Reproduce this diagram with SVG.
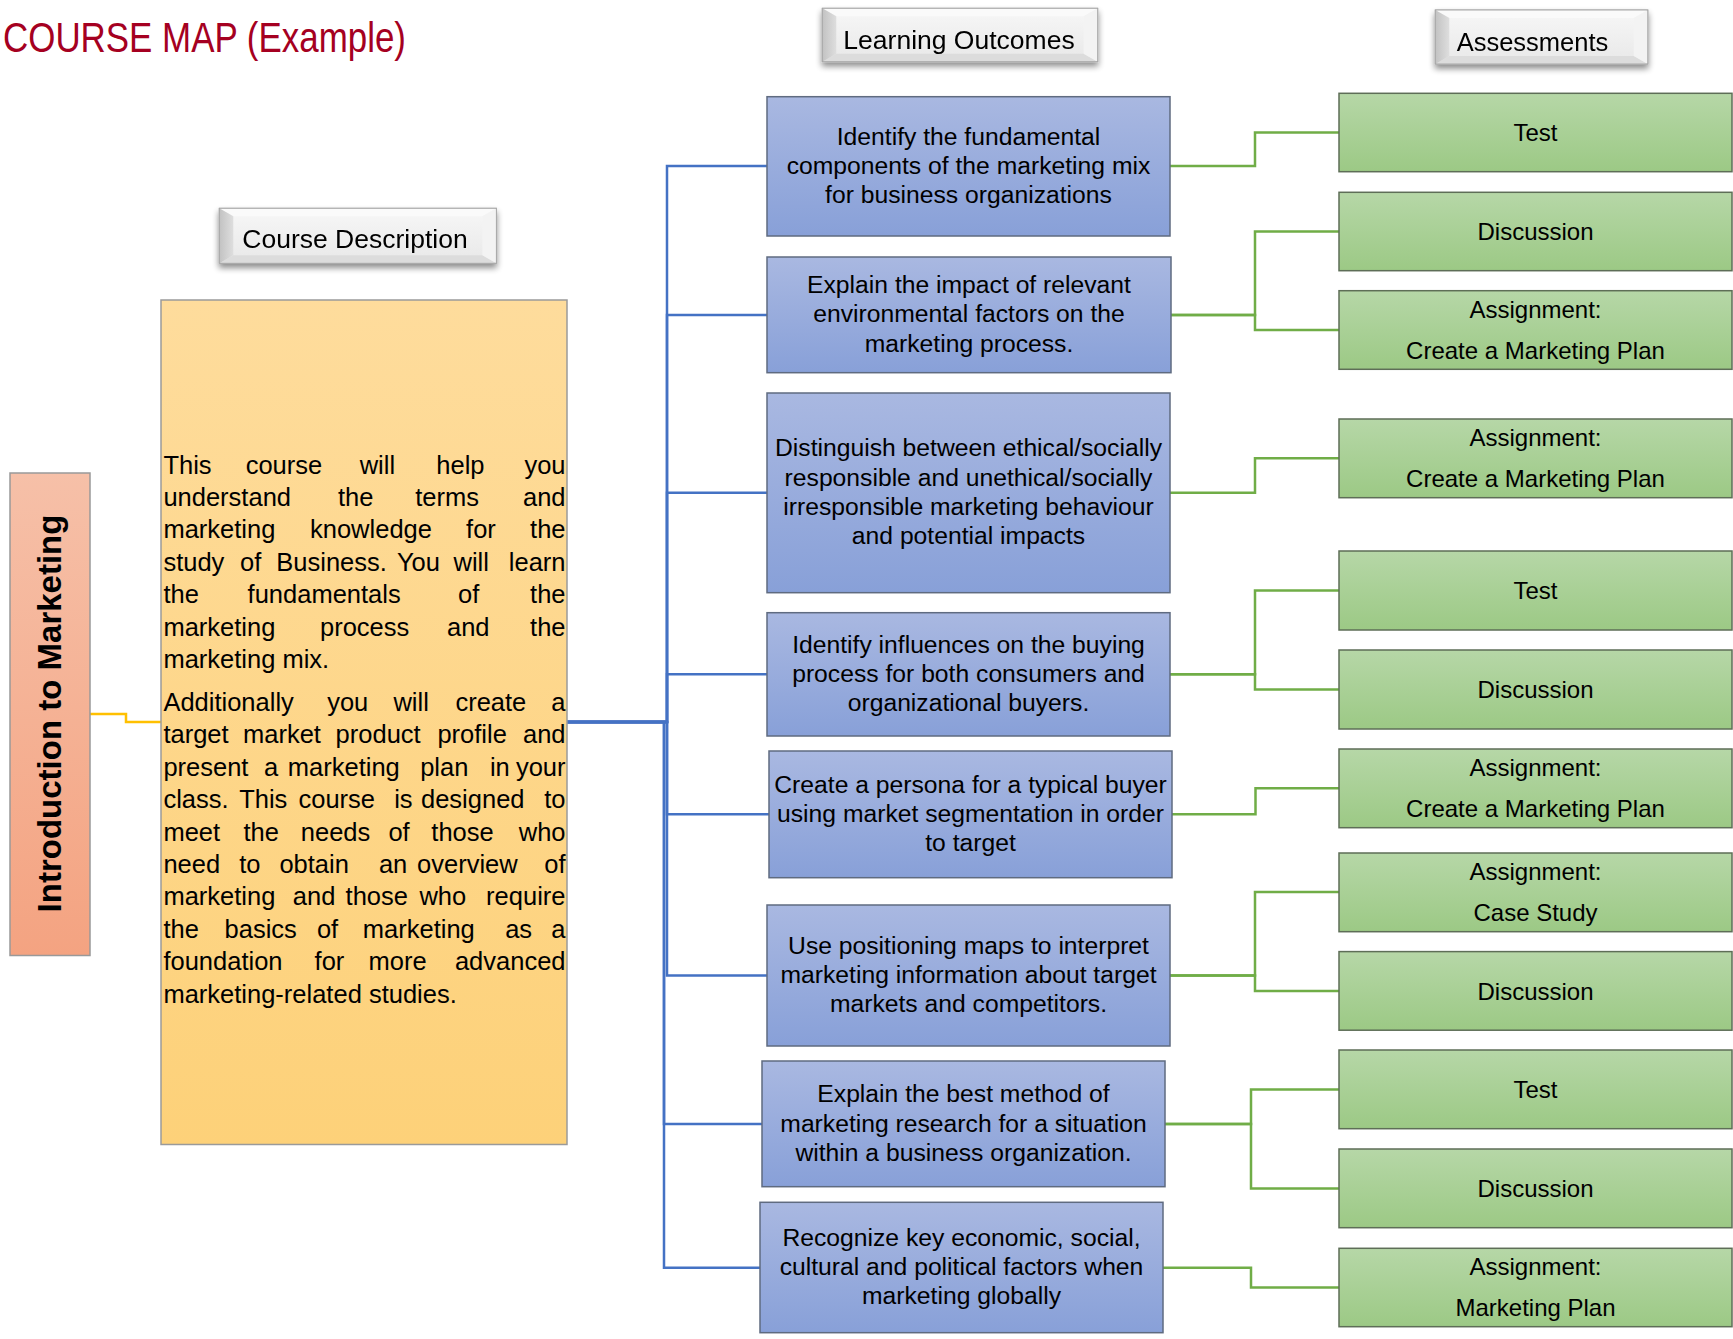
<svg xmlns="http://www.w3.org/2000/svg" width="1733" height="1339" viewBox="0 0 1733 1339">
<defs>
<linearGradient id="gLO" x1="0" y1="0" x2="0" y2="1"><stop offset="0" stop-color="#A9B8E1"/><stop offset="1" stop-color="#88A0D8"/></linearGradient>
<linearGradient id="gGr" x1="0" y1="0" x2="0" y2="1"><stop offset="0" stop-color="#B6D7A7"/><stop offset="1" stop-color="#9CC985"/></linearGradient>
<linearGradient id="gCo" x1="0" y1="0" x2="0" y2="1"><stop offset="0" stop-color="#FEDC9C"/><stop offset="1" stop-color="#FDD179"/></linearGradient>
<linearGradient id="gIn" x1="0" y1="0" x2="0" y2="1"><stop offset="0" stop-color="#F6C0A8"/><stop offset="1" stop-color="#F4A381"/></linearGradient>
<linearGradient id="gFace" x1="0" y1="0" x2="0" y2="1"><stop offset="0" stop-color="#F7F7F7"/><stop offset="1" stop-color="#E8E8E8"/></linearGradient>
<linearGradient id="gLeft" x1="0" y1="0" x2="1" y2="0"><stop offset="0" stop-color="#C2C2C2"/><stop offset="1" stop-color="#DEDEDE"/></linearGradient>
<filter id="sh" x="-10%" y="-20%" width="120%" height="160%">
<feGaussianBlur in="SourceAlpha" stdDeviation="3"/><feOffset dy="4"/>
<feComponentTransfer><feFuncA type="linear" slope="0.45"/></feComponentTransfer>
<feMerge><feMergeNode/><feMergeNode in="SourceGraphic"/></feMerge>
</filter>
</defs>
<style>
text{font-family:"Liberation Sans",Arial,sans-serif;fill:#000;}
.t{font-size:24px;}
.p{font-size:25.5px;}
.l{font-size:24.7px;}
.c{text-anchor:middle;}
.hd{font-size:26.5px;text-anchor:middle;}
.lo{fill:url(#gLO);stroke:#5F6B80;stroke-width:1.5;}
.gr{fill:url(#gGr);stroke:#5E6E57;stroke-width:1.5;}
.face{fill:url(#gFace);stroke:#A8A8A8;stroke-width:1;}
.bl{fill:url(#gLeft);}
.br{fill:#F3F3F3;}
.bb{fill:#DCDCDC;}
.bt{fill:#FAFAFA;}
.cb{fill:none;stroke:#4472C4;stroke-width:2.5;}
.cg{fill:none;stroke:#70AD47;stroke-width:2.5;}
.cy{fill:none;stroke:#FFC000;stroke-width:2.5;}
</style>

<g id="title">
<text x="3" y="51.7" font-size="42" style="fill:#A50021" textLength="403" lengthAdjust="spacingAndGlyphs">COURSE MAP (Example)</text>
</g>

<g id="connectors">
<path class="cy" d="M90,714 H126 V722 H161"/>
<path class="cb" d="M567,722 H667 V166 H767"/>
<path class="cb" d="M567,722 H667 V315 H767"/>
<path class="cb" d="M567,722 H667 V492.8 H767"/>
<path class="cb" d="M567,722 H667 V674.3 H767"/>
<path class="cb" d="M567,722 H667 V814.3 H769"/>
<path class="cb" d="M567,722 H667 V975.5 H767"/>
<path class="cb" d="M567,722 H664 V1124 H762"/>
<path class="cb" d="M567,722 H664 V1267.7 H760"/>
<path class="cg" d="M1170,166 H1255 V132.5 H1339"/>
<path class="cg" d="M1171,315 H1255 V231.5 H1339"/>
<path class="cg" d="M1171,315 H1255 V330 H1339"/>
<path class="cg" d="M1170,492.8 H1255 V458.3 H1339"/>
<path class="cg" d="M1170,674.3 H1255 V590.5 H1339"/>
<path class="cg" d="M1170,674.3 H1255 V689.5 H1339"/>
<path class="cg" d="M1172,814.3 H1255.5 V788.3 H1339"/>
<path class="cg" d="M1170,975.5 H1255 V892 H1339"/>
<path class="cg" d="M1170,975.5 H1255 V991 H1339"/>
<path class="cg" d="M1165,1124 H1251 V1089.4 H1339"/>
<path class="cg" d="M1165,1124 H1251 V1188.4 H1339"/>
<path class="cg" d="M1163,1267.7 H1251 V1287.5 H1339"/>
</g>

<g id="hdr-course-description" filter="url(#sh)">
<rect class="face" x="219.3" y="208.3" width="277.1" height="55"/>
<polygon class="bt" points="219.3,208.3 496.4,208.3 482.4,216.3 233.3,216.3"/>
<polygon class="bb" points="219.3,263.3 496.4,263.3 482.4,255.3 233.3,255.3"/>
<polygon class="bl" points="219.3,208.3 233.3,216.3 233.3,255.3 219.3,263.3"/>
<polygon class="br" points="496.4,208.3 482.4,216.3 482.4,255.3 496.4,263.3"/>
<rect x="219.3" y="208.3" width="277.1" height="55" fill="none" stroke="#A8A8A8"/>
<text class="hd" x="355" y="248.3">Course Description</text>
</g>

<g id="hdr-learning-outcomes" filter="url(#sh)">
<rect class="face" x="822.3" y="8.3" width="275.4" height="53.4"/>
<polygon class="bt" points="822.3,8.3 1097.7,8.3 1083.7,16.3 836.3,16.3"/>
<polygon class="bb" points="822.3,61.7 1097.7,61.7 1083.7,53.7 836.3,53.7"/>
<polygon class="bl" points="822.3,8.3 836.3,16.3 836.3,53.7 822.3,61.7"/>
<polygon class="br" points="1097.7,8.3 1083.7,16.3 1083.7,53.7 1097.7,61.7"/>
<rect x="822.3" y="8.3" width="275.4" height="53.4" fill="none" stroke="#A8A8A8"/>
<text class="hd" x="959" y="49.3">Learning Outcomes</text>
</g>

<g id="hdr-assessments" filter="url(#sh)">
<rect class="face" x="1435.3" y="10" width="212.5" height="54"/>
<polygon class="bt" points="1435.3,10 1647.8,10 1633.8,18 1449.3,18"/>
<polygon class="bb" points="1435.3,64 1647.8,64 1633.8,56 1449.3,56"/>
<polygon class="bl" points="1435.3,10 1449.3,18 1449.3,56 1435.3,64"/>
<polygon class="br" points="1647.8,10 1633.8,18 1633.8,56 1647.8,64"/>
<rect x="1435.3" y="10" width="212.5" height="54" fill="none" stroke="#A8A8A8"/>
<text class="hd" x="1532.5" y="51" font-size="25.5" style="font-size:25.5px">Assessments</text>
</g>

<g id="course-title">
<rect x="10" y="473" width="80" height="482.5" fill="url(#gIn)" stroke="#999999" stroke-width="1.5"/>
<text transform="translate(61,713.5) rotate(-90)" x="0" y="0" font-size="33" font-weight="bold" text-anchor="middle">Introduction to Marketing</text>
</g>

<g id="course-description">
<rect x="161" y="300" width="406" height="844.5" fill="url(#gCo)" stroke="#9A9A9A" stroke-width="1.5"/>
<text class="p" y="473.5"><tspan x="163.4">This</tspan><tspan x="245.7">course</tspan><tspan x="359.7">will</tspan><tspan x="436.3">help</tspan><tspan x="565.5" text-anchor="end">you</tspan></text>
<text class="p" y="505.9"><tspan x="163.4">understand</tspan><tspan x="337.9">the</tspan><tspan x="415.2">terms</tspan><tspan x="565.5" text-anchor="end">and</tspan></text>
<text class="p" y="538.3"><tspan x="163.4">marketing</tspan><tspan x="310">knowledge</tspan><tspan x="466.1">for</tspan><tspan x="565.5" text-anchor="end">the</tspan></text>
<text class="p" y="570.7"><tspan x="163.4">study</tspan><tspan x="240">of</tspan><tspan x="276.3">Business.</tspan><tspan x="396.9">You</tspan><tspan x="453.5">will</tspan><tspan x="565.5" text-anchor="end">learn</tspan></text>
<text class="p" y="603.1"><tspan x="163.4">the</tspan><tspan x="247.6">fundamentals</tspan><tspan x="458.1">of</tspan><tspan x="565.5" text-anchor="end">the</tspan></text>
<text class="p" y="635.5"><tspan x="163.4">marketing</tspan><tspan x="320">process</tspan><tspan x="447">and</tspan><tspan x="565.5" text-anchor="end">the</tspan></text>
<text class="p" x="163.4" y="667.9">marketing mix.</text>
<text class="p" y="711"><tspan x="163.4">Additionally</tspan><tspan x="327.2">you</tspan><tspan x="393.4">will</tspan><tspan x="455.4">create</tspan><tspan x="565.5" text-anchor="end">a</tspan></text>
<text class="p" y="743.4"><tspan x="163.4">target</tspan><tspan x="243">market</tspan><tspan x="335.6">product</tspan><tspan x="437.4">profile</tspan><tspan x="565.5" text-anchor="end">and</tspan></text>
<text class="p" y="775.8"><tspan x="163.4">present</tspan><tspan x="264">a</tspan><tspan x="287.8">marketing</tspan><tspan x="420.2">plan</tspan><tspan x="489.9">in</tspan><tspan x="565.5" text-anchor="end">your</tspan></text>
<text class="p" y="808.2"><tspan x="163.4">class.</tspan><tspan x="239.2">This</tspan><tspan x="298.5">course</tspan><tspan x="394.2">is</tspan><tspan x="421">designed</tspan><tspan x="565.5" text-anchor="end">to</tspan></text>
<text class="p" y="840.6"><tspan x="163.4">meet</tspan><tspan x="243.4">the</tspan><tspan x="300.8">needs</tspan><tspan x="388.4">of</tspan><tspan x="431.3">those</tspan><tspan x="565.5" text-anchor="end">who</tspan></text>
<text class="p" y="873"><tspan x="163.4">need</tspan><tspan x="239.2">to</tspan><tspan x="279.4">obtain</tspan><tspan x="378.9">an</tspan><tspan x="417.1">overview</tspan><tspan x="565.5" text-anchor="end">of</tspan></text>
<text class="p" y="905.4"><tspan x="163.4">marketing</tspan><tspan x="292.8">and</tspan><tspan x="345.6">those</tspan><tspan x="419.4">who</tspan><tspan x="565.5" text-anchor="end">require</tspan></text>
<text class="p" y="937.8"><tspan x="163.4">the</tspan><tspan x="224.6">basics</tspan><tspan x="316.9">of</tspan><tspan x="362.8">marketing</tspan><tspan x="505.2">as</tspan><tspan x="565.5" text-anchor="end">a</tspan></text>
<text class="p" y="970.2"><tspan x="163.4">foundation</tspan><tspan x="314.6">for</tspan><tspan x="368.5">more</tspan><tspan x="565.5" text-anchor="end">advanced</tspan></text>
<text class="p" x="163.4" y="1002.6">marketing-related studies.</text>
</g>

<g id="lo1">
<rect class="lo" x="767" y="96.7" width="403" height="139.3"/>
<text class="l c" x="968.5" y="144.5">Identify the fundamental</text>
<text class="l c" x="968.5" y="173.8">components of the marketing mix</text>
<text class="l c" x="968.5" y="203.1">for business organizations</text>
</g>
<g id="lo2">
<rect class="lo" x="767" y="257" width="404" height="115.7"/>
<text class="l c" x="969" y="293.1">Explain the impact of relevant</text>
<text class="l c" x="969" y="322.4">environmental factors on the</text>
<text class="l c" x="969" y="351.7">marketing process.</text>
</g>
<g id="lo3">
<rect class="lo" x="767" y="393" width="403" height="199.7"/>
<text class="l c" x="968.5" y="456.3">Distinguish between ethical/socially</text>
<text class="l c" x="968.5" y="485.6">responsible and unethical/socially</text>
<text class="l c" x="968.5" y="514.9">irresponsible marketing behaviour</text>
<text class="l c" x="968.5" y="544.2">and potential impacts</text>
</g>
<g id="lo4">
<rect class="lo" x="767" y="612.7" width="403" height="123.3"/>
<text class="l c" x="968.5" y="652.5">Identify influences on the buying</text>
<text class="l c" x="968.5" y="681.8">process for both consumers and</text>
<text class="l c" x="968.5" y="711.1">organizational buyers.</text>
</g>
<g id="lo5">
<rect class="lo" x="769" y="751" width="403" height="126.7"/>
<text class="l c" x="970.5" y="792.5">Create a persona for a typical buyer</text>
<text class="l c" x="970.5" y="821.8">using market segmentation in order</text>
<text class="l c" x="970.5" y="851.1">to target</text>
</g>
<g id="lo6">
<rect class="lo" x="767" y="905" width="403" height="141"/>
<text class="l c" x="968.5" y="953.7">Use positioning maps to interpret</text>
<text class="l c" x="968.5" y="983">marketing information about target</text>
<text class="l c" x="968.5" y="1012.3">markets and competitors.</text>
</g>
<g id="lo7">
<rect class="lo" x="762" y="1061" width="403" height="125.7"/>
<text class="l c" x="963.5" y="1102.2">Explain the best method of</text>
<text class="l c" x="963.5" y="1131.5">marketing research for a situation</text>
<text class="l c" x="963.5" y="1160.8">within a business organization.</text>
</g>
<g id="lo8">
<rect class="lo" x="760" y="1202.3" width="403" height="130.4"/>
<text class="l c" x="961.5" y="1245.7">Recognize key economic, social,</text>
<text class="l c" x="961.5" y="1275">cultural and political factors when</text>
<text class="l c" x="961.5" y="1304.3">marketing globally</text>
</g>

<g id="a1"><rect class="gr" x="1339" y="93.3" width="393" height="78.4"/><text class="t c" x="1535.5" y="141">Test</text></g>
<g id="a2"><rect class="gr" x="1339" y="192.3" width="393" height="78.4"/><text class="t c" x="1535.5" y="240">Discussion</text></g>
<g id="a3"><rect class="gr" x="1339" y="290.7" width="393" height="78.6"/><text class="t c" x="1535.5" y="317.7">Assignment:</text><text class="t c" x="1535.5" y="358.7">Create a Marketing Plan</text></g>
<g id="a4"><rect class="gr" x="1339" y="419" width="393" height="78.7"/><text class="t c" x="1535.5" y="446">Assignment:</text><text class="t c" x="1535.5" y="487">Create a Marketing Plan</text></g>
<g id="a5"><rect class="gr" x="1339" y="551" width="393" height="79"/><text class="t c" x="1535.5" y="599">Test</text></g>
<g id="a6"><rect class="gr" x="1339" y="650" width="393" height="79"/><text class="t c" x="1535.5" y="698">Discussion</text></g>
<g id="a7"><rect class="gr" x="1339" y="749" width="393" height="78.7"/><text class="t c" x="1535.5" y="776">Assignment:</text><text class="t c" x="1535.5" y="817">Create a Marketing Plan</text></g>
<g id="a8"><rect class="gr" x="1339" y="853" width="393" height="78.7"/><text class="t c" x="1535.5" y="880">Assignment:</text><text class="t c" x="1535.5" y="921">Case Study</text></g>
<g id="a9"><rect class="gr" x="1339" y="951.6" width="393" height="78.6"/><text class="t c" x="1535.5" y="999.5">Discussion</text></g>
<g id="a10"><rect class="gr" x="1339" y="1050" width="393" height="78.7"/><text class="t c" x="1535.5" y="1098">Test</text></g>
<g id="a11"><rect class="gr" x="1339" y="1149" width="393" height="78.7"/><text class="t c" x="1535.5" y="1197">Discussion</text></g>
<g id="a12"><rect class="gr" x="1339" y="1248.3" width="393" height="78.4"/><text class="t c" x="1535.5" y="1275.3">Assignment:</text><text class="t c" x="1535.5" y="1316.3">Marketing Plan</text></g>
</svg>
